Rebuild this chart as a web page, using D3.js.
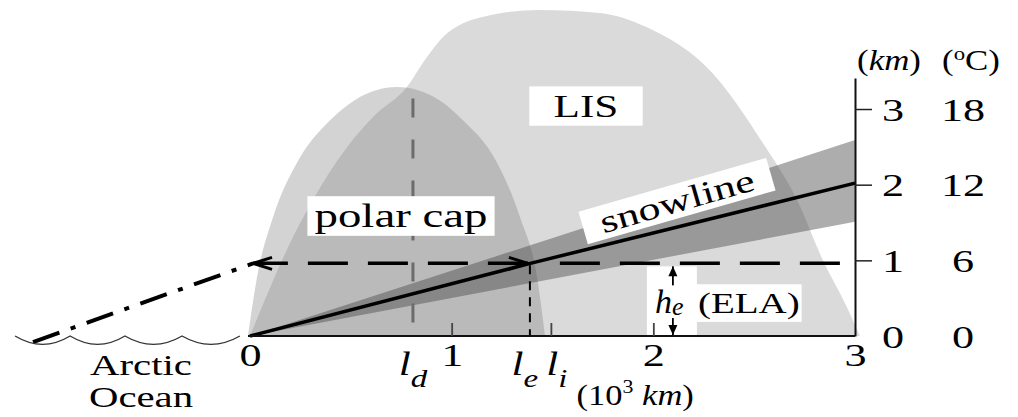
<!DOCTYPE html>
<html>
<head>
<meta charset="utf-8">
<script src="https://cdn.jsdelivr.net/npm/d3@7"></script>
<style>
  body { margin: 0; background: #fff; }
  svg { display: block; font-family: "Liberation Serif", "Times New Roman", serif; }
</style>
</head>
<body>
<svg id="chart" width="1018" height="417"></svg>
<script>
// distance in 10^3 km, height in km
var lisX = [0, 0.074, 0.183, 0.312, 0.471, 0.62, 0.778, 0.868, 0.977, 1.19, 1.438, 1.735, 1.968, 2.295, 2.543, 2.712, 2.841, 2.96, 3.024];
var lisH = [0, 0.48, 1.14, 1.80, 2.46, 2.92, 3.29, 3.65, 4.00, 4.24, 4.31, 4.27, 4.08, 3.47, 2.55, 1.80, 1.00, 0.38, 0];
var capX = [-0.01, 0.035, 0.114, 0.233, 0.397, 0.521, 0.729, 0.937, 1.056, 1.225, 1.339, 1.423, 1.463];
var capH = [0, 0.78, 1.57, 2.29, 2.85, 3.12, 3.29, 3.12, 2.85, 2.29, 1.57, 0.78, 0];

var snowX = [0, 1.39, 3];
var snowH = [0, 0.96, 2.02];
var bandX = [0, 3];
var bandLow = [0, 1.51];
var bandHigh = [0, 2.59];

var ela = 0.96;
var elaArrowX = [0.015, 1.378];
var elaDashX = [1.378, 2.925];
var coastX = [-1.076, 0.015];
var coastH = [-0.08, 0.96];
var waveX = [-1.165, -0.892, -0.62, -0.337, -0.05];
var waveDepth = -0.11;

var ld = 0.808, le = 1.388, li = 1.492, ldTop = 3.14, heX = 2.097;

var xTicks = [0, 1, 2, 3];
var xMarks = [1, li, 2];
var kmTicks = [0, 1, 2, 3];
var degLabels = ["0", "6", "12", "18"];

var svg = d3.select("#chart");
var x = d3.scaleLinear().domain([0, 3]).range([250, 855]);
var y = d3.scaleLinear().domain([0, 3.41]).range([336, 78]);

// markers
var defs = svg.append("defs");
defs.append("marker").attr("id", "head")
  .attr("markerUnits", "userSpaceOnUse").attr("viewBox", "-11 -6 12 12")
  .attr("markerWidth", 12).attr("markerHeight", 12)
  .attr("refX", 0).attr("refY", 0).attr("orient", "auto")
  .append("path").attr("d", "M-10,-4.5 L0,0 L-10,4.5 Z").attr("fill", "#000");
defs.append("marker").attr("id", "vee")
  .attr("markerUnits", "userSpaceOnUse").attr("viewBox", "-22 -9 24 18")
  .attr("markerWidth", 24).attr("markerHeight", 18)
  .attr("refX", 0).attr("refY", 0).attr("orient", "auto-start-reverse")
  .append("path").attr("d", "M-19,-6 L0,0 L-19,6")
  .attr("fill", "none").attr("stroke", "#000").attr("stroke-width", 3);

function addText(parent, tx, ty, size, sx, anchor) {
  var g = parent.append("g").attr("transform", "translate(" + tx + "," + ty + ") scale(" + sx + ",1)");
  var t = g.append("text").attr("font-size", size).attr("text-anchor", anchor || "middle");
  return t;
}
function boxBehind(t, px, py) {
  var bb = t.node().getBBox();
  d3.select(t.node().parentNode).insert("rect", "text")
    .attr("x", bb.x - px).attr("y", bb.y - py)
    .attr("width", bb.width + 2 * px).attr("height", bb.height + 2 * py)
    .attr("fill", "#fff");
}

// ice sheets
var area = d3.area().curve(d3.curveMonotoneX)
  .x(function (d) { return x(d[0]); })
  .y0(y(0))
  .y1(function (d) { return y(d[1]); });
svg.append("path").attr("d", area(d3.zip(lisX, lisH))).attr("fill", "#dadada");
svg.append("path").attr("d", area(d3.zip(capX, capH))).attr("fill", "#7a7a7a").attr("fill-opacity", 0.33);

// snowline uncertainty band
var band = d3.area()
  .x(function (d) { return x(d[0]); })
  .y0(function (d) { return y(d[1]); })
  .y1(function (d) { return y(d[2]); });
svg.append("path").attr("d", band(d3.zip(bandX, bandLow, bandHigh)))
  .attr("fill", "#4a4a4a").attr("fill-opacity", 0.45);

// l_d marker
svg.append("line")
  .attr("x1", x(ld)).attr("x2", x(ld)).attr("y1", y(ldTop)).attr("y2", y(0))
  .attr("stroke", "#6c6c6c").attr("stroke-width", 3).attr("stroke-dasharray", "19,22");

// white label boxes
var lisT = addText(svg, 586, 117, 32, 1.35).text("LIS");
boxBehind(lisT, 18, 2);
var capT = addText(svg, 401, 227, 33, 1.42).text("polar cap");
boxBehind(capT, 5, 1.5);
var snowT = svg.append("g").attr("transform", "translate(677,201) rotate(-16) scale(1.38,1)")
  .append("text").attr("font-size", 32).attr("text-anchor", "middle").attr("dy", "0.34em").text("snowline");
boxBehind(snowT, 13, -0.5);

svg.append("rect")
  .attr("x", x(heX) - 26).attr("y", y(ela) + 3)
  .attr("width", 50).attr("height", y(0) - y(ela) - 4)
  .attr("fill", "#fff");
var elaT = addText(svg, x(heX) + 25, 313, 30, 1.3, "start").text("(ELA)");
boxBehind(elaT, 1.5, 2);
var heT = addText(svg, x(heX) - 18, 313, 34, 1.0, "start");
heT.append("tspan").attr("font-style", "italic").text("h");
heT.append("tspan").attr("font-style", "italic").attr("font-size", 26).attr("dy", 2).text("e");

// snowline
var line = d3.line().x(function (d) { return x(d[0]); }).y(function (d) { return y(d[1]); });
svg.append("path").attr("d", line(d3.zip(snowX, snowH)))
  .attr("fill", "none").attr("stroke", "#000").attr("stroke-width", 3.5);

// ELA dashed lines
svg.append("line")
  .attr("x1", x(elaArrowX[1])).attr("x2", x(elaArrowX[0]))
  .attr("y1", y(ela)).attr("y2", y(ela))
  .attr("stroke", "#000").attr("stroke-width", 3.5).attr("stroke-dasharray", "40,20")
  .attr("marker-start", "url(#vee)").attr("marker-end", "url(#vee)");
svg.append("line")
  .attr("x1", x(elaDashX[1])).attr("x2", x(elaDashX[0]) + 12)
  .attr("y1", y(ela)).attr("y2", y(ela))
  .attr("stroke", "#000").attr("stroke-width", 3.5).attr("stroke-dasharray", "40,20");

// coastline dash-dot
svg.append("path").attr("d", line(d3.zip(coastX, coastH)))
  .attr("fill", "none").attr("stroke", "#000").attr("stroke-width", 4)
  .attr("stroke-dasharray", "28,12,5,12");

// l_e marker
svg.append("line")
  .attr("x1", x(le)).attr("x2", x(le)).attr("y1", y(ela) + 2).attr("y2", y(0))
  .attr("stroke", "#000").attr("stroke-width", 2).attr("stroke-dasharray", "9,7");

// sea waves
var wp = d3.path();
wp.moveTo(x(waveX[0]), y(0));
for (var i = 1; i < waveX.length; i++) {
  var mx = (x(waveX[i - 1]) + x(waveX[i])) / 2;
  wp.quadraticCurveTo(mx, 2 * y(waveDepth) - y(0), x(waveX[i]), y(0));
}
svg.append("path").attr("d", wp.toString()).attr("fill", "none").attr("stroke", "#333").attr("stroke-width", 1.3);

// x axis: baseline + inner ticks
var xAxisG = svg.append("g").attr("transform", "translate(0," + y(0) + ")")
  .call(d3.axisTop(x).tickValues(xMarks).tickSize(13).tickSizeOuter(0).tickFormat(""));
xAxisG.select(".domain").attr("stroke", "#111").attr("stroke-width", 2).attr("d", "M" + (x(0) - 2) + ",0H" + x(3));
xAxisG.selectAll(".tick line").attr("stroke", "#444").attr("stroke-width", 1.8);

var xLab = svg.append("g").attr("transform", "translate(0," + y(0) + ")")
  .call(d3.axisBottom(x).tickValues(xTicks).tickSize(0).tickFormat(d3.format("d")));
xLab.select(".domain").remove();
xLab.attr("font-family", null).attr("font-size", null);
xLab.selectAll(".tick text")
  .attr("y", null).attr("dy", null).attr("fill", "#000")
  .attr("font-size", 32)
  .attr("transform", "translate(0,30) scale(1.38,1)");

// x labels for l_d, l_e, l_i
var subLabels = [[ld, 0, "d"], [le, -5, "e"], [li, 6, "i"]];
subLabels.forEach(function (s) {
  var t = addText(svg, x(s[0]) + s[1], 375, 34, 1.27);
  t.append("tspan").attr("font-style", "italic").text("l");
  t.append("tspan").attr("font-style", "italic").attr("font-size", 26).attr("dy", 12).text(s[2]);
});

var unitX = addText(svg, x(1.91), 405, 30, 1.15);
unitX.append("tspan").text("(10");
unitX.append("tspan").attr("font-size", 19).attr("dy", -12).text("3");
unitX.append("tspan").attr("dy", 12).text(" ");
unitX.append("tspan").attr("font-style", "italic").text("km");
unitX.append("tspan").text(")");

// right axis, km
var yAxisG = svg.append("g").attr("transform", "translate(" + x(3) + ",0)")
  .call(d3.axisRight(y).tickValues(kmTicks).tickSize(17).tickSizeOuter(0).tickFormat(d3.format("d")));
yAxisG.attr("font-family", null).attr("font-size", null);
yAxisG.select(".domain").attr("stroke", "#111").attr("stroke-width", 2);
yAxisG.selectAll(".tick line").attr("stroke", "#222").attr("stroke-width", 1.5)
  .attr("opacity", function (d) { return d === 0 ? 0 : 1; });
yAxisG.selectAll(".tick text")
  .attr("x", null).attr("dy", "0.35em").attr("fill", "#000").attr("font-size", 32)
  .attr("text-anchor", "start")
  .attr("transform", "translate(27,0) scale(1.38,1)");

// right axis, degrees C
var degG = svg.append("g").attr("transform", "translate(963,0)")
  .call(d3.axisRight(y).tickValues(kmTicks).tickSize(0).tickFormat(function (d, i) { return degLabels[i]; }));
degG.attr("font-family", null).attr("font-size", null);
degG.select(".domain").remove();
degG.selectAll(".tick text")
  .attr("x", null).attr("dy", "0.35em").attr("fill", "#000").attr("font-size", 32)
  .attr("text-anchor", "middle")
  .attr("transform", "scale(1.38,1)");

var kmHead = addText(svg, 889, 70, 29, 1.2);
kmHead.append("tspan").text("(");
kmHead.append("tspan").attr("font-style", "italic").text("km");
kmHead.append("tspan").text(")");
var cHead = addText(svg, 971, 70, 29, 1.2);
cHead.append("tspan").text("(");
cHead.append("tspan").attr("font-size", 19).attr("dy", -10).text("o");
cHead.append("tspan").attr("dy", 10).text("C)");

// h_e arrows
svg.append("line").attr("x1", x(heX)).attr("x2", x(heX))
  .attr("y1", y(ela) + 22).attr("y2", y(ela) + 3)
  .attr("stroke", "#000").attr("stroke-width", 1.8).attr("marker-end", "url(#head)");
svg.append("line").attr("x1", x(heX)).attr("x2", x(heX))
  .attr("y1", y(0) - 18).attr("y2", y(0) - 1)
  .attr("stroke", "#000").attr("stroke-width", 1.8).attr("marker-end", "url(#head)");

// sea label
addText(svg, 141, 375, 30, 1.36).text("Arctic");
addText(svg, 141, 407, 30, 1.36).text("Ocean");
</script>
</body>
</html>
